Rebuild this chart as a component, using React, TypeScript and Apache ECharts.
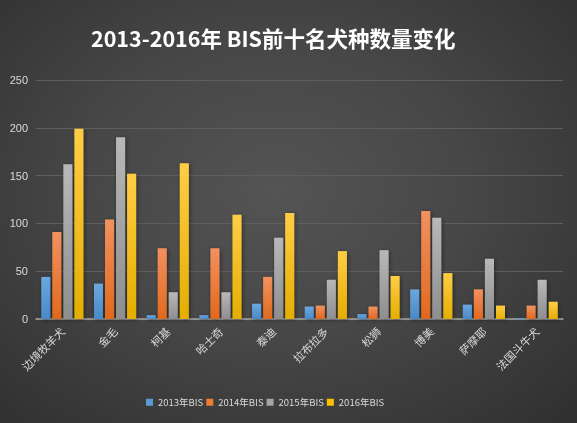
import React, { useEffect, useRef } from "react";
import * as echarts from "echarts";

const categories = ["边境牧羊犬", "金毛", "柯基", "哈士奇", "泰迪", "拉布拉多", "松狮", "博美", "萨摩耶", "法国斗牛犬"];
const seriesNames = ["2013年BIS", "2014年BIS", "2015年BIS", "2016年BIS"];
const values2013 = [44, 37, 4, 4, 16, 13, 5, 31, 15, 1];
const values2014 = [91, 104, 74, 74, 44, 14, 13, 113, 31, 14];
const values2015 = [162, 190, 28, 28, 85, 41, 72, 106, 63, 41];
const values2016 = [199, 152, 163, 109, 111, 71, 45, 48, 14, 18];
const yTicks = { min: 0, max: 250, interval: 50 };

const colorStops = [
  ["#6ba8de", "#4a89c8"],
  ["#f29160", "#e2691c"],
  ["#b8b8b8", "#8e8e8e"],
  ["#ffcd45", "#e5ae00"],
];
const legendColors = ["#5b9bd5", "#ed7d31", "#a5a5a5", "#ffc000"];

export default function App() {
  const ref = useRef<HTMLDivElement>(null);
  useEffect(() => {
    if (!ref.current) return;
    const chart = echarts.init(ref.current, null, { renderer: "svg" });
    const data = [values2013, values2014, values2015, values2016];
    chart.setOption({
      animation: false,
      backgroundColor: "transparent",
      title: {
        text: "2013-2016年 BIS前十名犬种数量变化",
        left: 86,
        top: 22,
        textStyle: {
          color: "#ffffff",
          fontSize: 21.5,
          fontWeight: "bold",
          fontFamily: "'Noto Sans CJK SC', 'Noto Sans', sans-serif",
        },
      },
      legend: {
        bottom: 11,
        left: 141,
        itemWidth: 7,
        itemHeight: 7,
        itemGap: 3,
        icon: "rect",
        textStyle: { color: "#d9d9d9", fontSize: 9.5, fontFamily: "'Noto Sans CJK SC', sans-serif" },
        data: seriesNames.map((n, i) => ({ name: n, itemStyle: { color: legendColors[i] } })),
      },
      grid: { left: 36, right: 14, top: 80, bottom: 104, containLabel: false },
      xAxis: {
        type: "category",
        data: categories,
        axisLine: { lineStyle: { color: "#a6a6a6", width: 1.5 } },
        axisTick: { show: false },
        axisLabel: {
          rotate: 45,
          color: "#d9d9d9",
          fontSize: 11,
          interval: 0,
          margin: 10,
          fontFamily: "'Noto Sans CJK SC', sans-serif",
        },
      },
      yAxis: {
        type: "value",
        min: yTicks.min,
        max: yTicks.max,
        interval: yTicks.interval,
        axisLine: { show: false },
        axisTick: { show: false },
        splitLine: { lineStyle: { color: "#5e5e5e", width: 1 } },
        axisLabel: { color: "#d9d9d9", fontSize: 11, margin: 8, fontFamily: "'Liberation Sans', sans-serif" },
      },
      series: seriesNames.map((name, i) => ({
        name,
        type: "bar",
        data: data[i],
        barGap: "22%",
        barCategoryGap: "20%",
        itemStyle: {
          color: new echarts.graphic.LinearGradient(0, 0, 0, 1, [
            { offset: 0, color: colorStops[i][0] },
            { offset: 1, color: colorStops[i][1] },
          ]),
          shadowColor: "rgba(0,0,0,0.45)",
          shadowBlur: 4,
          shadowOffsetX: 1,
          shadowOffsetY: 1,
        },
      })),
    });
    return () => chart.dispose();
  }, []);
  return (
    <div
      style={{
        position: "fixed",
        left: 0,
        top: 0,
        width: 577,
        height: 423,
        background: "radial-gradient(ellipse at 48% 45%, #545454 0%, #474747 45%, #2f2f2f 100%)",
      }}
    >
      <div ref={ref} style={{ width: 577, height: 423 }} />
    </div>
  );
}
